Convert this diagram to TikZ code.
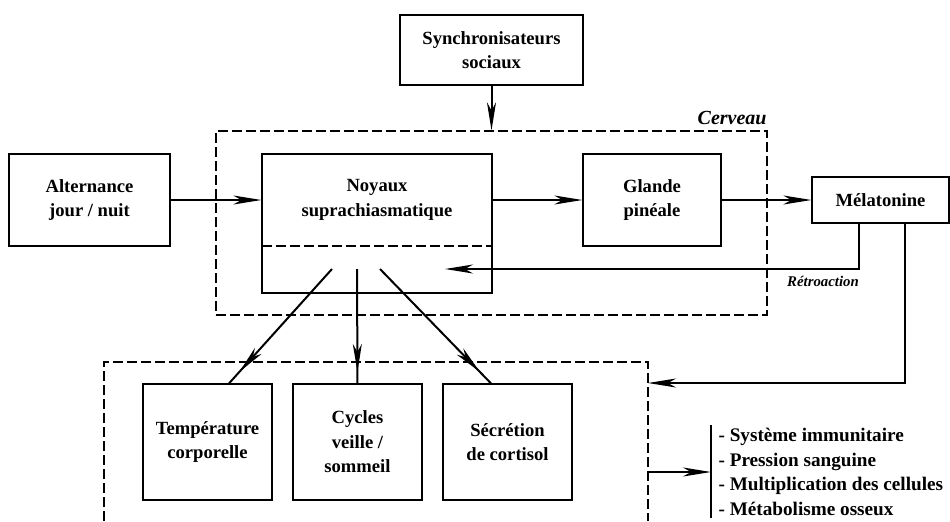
\documentclass[tikz,border=0pt]{standalone}
\usepackage{fontspec}
\setmainfont{Liberation Serif}
\newfontfamily\diagfont{Liberation Serif}
\usetikzlibrary{arrows.meta,positioning,decorations.markings}
\tikzset{
	box/.style={draw,line width=.6pt,align=center,inner sep=0pt,font=\diagfont\bfseries\fontsize{9.3}{12.3}\selectfont},
	zone/.style={draw,line width=.6pt,dash pattern=on 5pt off 2pt},
	tip/.style={>={Stealth[length=14pt,width=4.5pt,inset=4pt]}},
	diredge/.style={tip,->,line width=1pt},
	thinedge/.style={line width=.6pt},
	midedge/.style={tip,line width=1pt,postaction={decorate},
		decoration={markings,mark=at position .9 with {\arrow{>}}}},
	zonelabel/.style={inner sep=0pt,font=\diagfont\bfseries\itshape\fontsize{10}{12}\selectfont}
}
\begin{document}
\begin{tikzpicture}[x=.5pt,y=-.5pt]
\useasboundingbox (0,0) rectangle (950,521);

\node[zone,minimum width=275.5pt,minimum height=92pt] (Cerv) at (491.5,223) {};
\node[zonelabel,anchor=base east] (CervL) at (767,124) {Cerveau};

    \node[box,minimum width=91.5pt,minimum height=35pt] (Sync) at (491.5,50) {Synchronisateurs\\sociaux};
    \node[box,minimum width=80.5pt,minimum height=46pt] (Alt) at (89.5,200) {Alternance\\jour / nuit};
    \node[box,minimum width=115pt,minimum height=69.5pt] (SCN) at (377,223.5) {};
    \node[box,draw=none] (SCNt) at (377,200) {Noyaux\\suprachiasmatique};
    \node[box,minimum width=69pt,minimum height=46pt] (Gl) at (652,200) {Glande\\pinéale};
    \node[box,minimum width=68.5pt,minimum height=23pt] (Mel) at (880.5,200) {Mélatonine};

    \node[box,minimum width=64.5pt,minimum height=58pt] (Temp) at (207.5,442) {Température\\corporelle};
    \node[box,minimum width=64.5pt,minimum height=58pt] (Cyc) at (357.5,442) {Cycles\\veille /\\sommeil};
    \node[box,minimum width=64.5pt,minimum height=58pt] (Sec) at (507.5,442) {Sécrétion\\de cortisol};

    \node[box,draw=none,align=left,anchor=west,font=\diagfont\bfseries\fontsize{9.6}{12.25}\selectfont] (List) at (718,472)
    {- Système immunitaire\\- Pression sanguine\\- Multiplication des cellules\\- Métabolisme osseux};

    \coordinate (Div) at (262,246);
    \coordinate (O1) at (332,269);
    \coordinate (O2) at (357,269);
    \coordinate (O3) at (380,269);
    \coordinate (R1) at (859,269);
    \coordinate (R2) at (550,269);
    \coordinate (R3) at (445,269);
    \coordinate (M1) at (905,383);
    \coordinate (M2) at (721,383);
    \coordinate (M3) at (648,383);
    \coordinate (E1) at (648,472);
    \coordinate (E2) at (711,472);

    \draw[zone] (Div) -- (Div -| SCN.east);
    \draw[zone] (104,521) -- (104,362) -- (648,362) -- (648,521);
    \draw[thinedge] (711,425) -- (711,518);

    \draw[diredge] (Sync) -- (Cerv.north);
    \draw[diredge] (Alt) -- (Alt -| SCN.west);
    \draw[diredge] (Gl.west -| SCN.east) -- (Gl);
    \draw[diredge] (Gl) -- (Mel);

    \draw[thinedge] (Mel.south -| R1) -- (R1) -- (R2);
    \draw[diredge] (R2) -- (R3);
    \node[zonelabel,font=\diagfont\bfseries\itshape\fontsize{7.4}{9}\selectfont] (Retro) at (823,281) {Rétroaction};

    \draw[thinedge] (Mel.south -| M1) -- (M1) -- (M2);
    \draw[diredge] (M2) -- (M3);

    \draw[midedge] (O1) -- ([xshift=10.75pt]Temp.north);
    \draw[midedge] (O2) -- (Cyc.north);
    \draw[midedge] (O3) -- ([xshift=-8.25pt]Sec.north);

    \draw[diredge] (E1) -- (E2);
\end{tikzpicture}
\end{document}
